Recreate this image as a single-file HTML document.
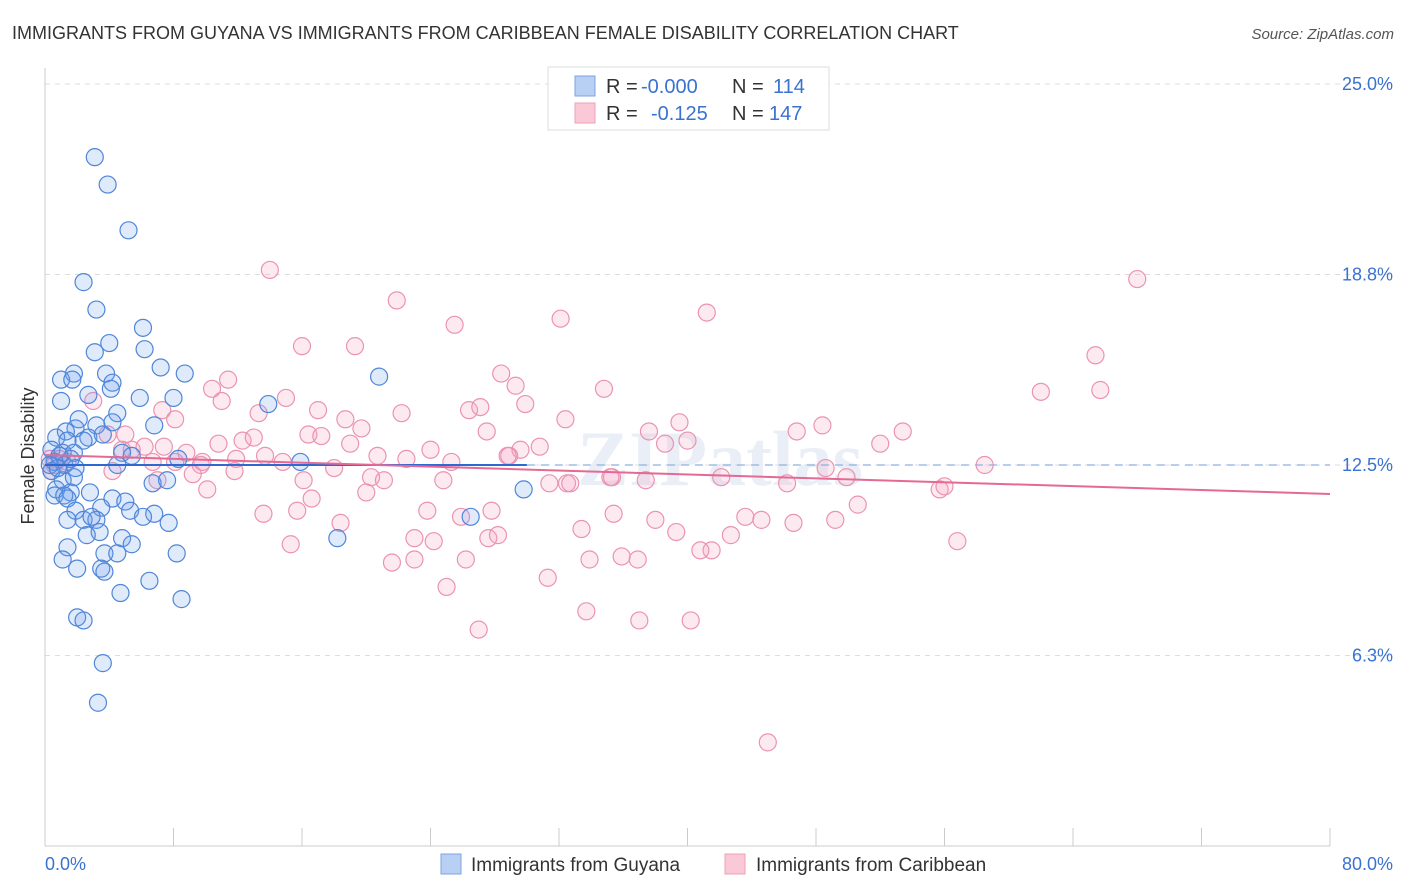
<!DOCTYPE html>
<html><head><meta charset="utf-8">
<style>
body{margin:0;background:#fff;font-family:"Liberation Sans",sans-serif;}
svg{display:block}
</style></head>
<body>
<svg id="chart" width="1406" height="892" viewBox="0 0 1406 892" xmlns="http://www.w3.org/2000/svg">
<text x="12" y="39" font-size="18" fill="#333">IMMIGRANTS FROM GUYANA VS IMMIGRANTS FROM CARIBBEAN FEMALE DISABILITY CORRELATION CHART</text>
<text x="1394" y="39" font-size="15" fill="#555" font-style="italic" text-anchor="end">Source: ZipAtlas.com</text>
<text x="720" y="485" font-size="78" fill="#dde6f2" text-anchor="middle" font-family="Liberation Serif" font-weight="bold" opacity="0.6">ZIPatlas</text>
<g id="grid"></g>
<g id="axes"></g>
<g id="marks"></g>
<text transform="translate(34,456) rotate(-90)" font-size="18" fill="#333" text-anchor="middle">Female Disability</text>
<g>
<rect x="548" y="67" width="281" height="63" fill="#fff" stroke="#ddd"/>
<rect x="575" y="76" width="20" height="20" fill="#b7d0f4" stroke="#7ea6e0"/>
<rect x="575" y="103" width="20" height="20" fill="#fbc8d8" stroke="#eea0b8"/>
<text x="606" y="93" font-size="20" fill="#333">R =</text><text x="641" y="93" font-size="20" fill="#3a72d0">-0.000</text>
<text x="732" y="93" font-size="20" fill="#333">N =</text><text x="773" y="93" font-size="20" fill="#3a72d0">114</text>
<text x="606" y="120" font-size="20" fill="#333">R =</text><text x="651" y="120" font-size="20" fill="#3a72d0">-0.125</text>
<text x="732" y="120" font-size="20" fill="#333">N =</text><text x="769" y="120" font-size="20" fill="#3a72d0">147</text>
</g>
<g>
<rect x="441" y="854" width="20" height="20" fill="#b7d0f4" stroke="#7ea6e0"/>
<text x="471" y="871" font-size="19" fill="#333">Immigrants from Guyana</text>
<rect x="725" y="854" width="20" height="20" fill="#fbc8d8" stroke="#eea0b8"/>
<text x="756" y="871" font-size="19" fill="#333">Immigrants from Caribbean</text>
</g>
</svg>
<script>
const yTicks=[25,18.75,12.5,6.25];
const yTickLabels=["25.0%","18.8%","12.5%","6.3%"];
const xTicks=[0,8,16,24,32,40,48,56,64,72,80];
const guyanaX=[3.1,3.9,5.2,2.4,3.2,6.1,4.0,6.2,3.1,7.2,8.7,13.9,20.8,1.8,1.0,1.7,3.8,4.2,4.1,2.7,5.9,8.0,1.0,4.5,2.1,6.8,4.2,3.2,1.9,1.3,0.7,1.4,2.7,3.6,2.4,0.4,1.1,1.8,4.8,5.4,8.3,15.9,4.5,0.6,1.2,1.9,0.4,1.1,1.8,0.7,1.6,2.8,6.7,7.6,29.8,0.6,1.2,1.4,4.2,5.0,3.5,1.9,5.3,6.8,6.1,26.5,1.4,2.4,3.2,2.9,7.7,3.4,2.6,4.8,18.2,1.4,5.4,3.7,4.5,8.2,1.1,2.0,3.5,3.7,6.5,4.7,8.5,2.0,2.4,3.6,3.3,1.6,0.9,0.3,0.8];
const guyanaY=[22.6,21.7,20.2,18.5,17.6,17.0,16.5,16.3,16.2,15.7,15.5,14.5,15.4,15.5,15.3,15.3,15.5,15.2,15.0,14.8,14.7,14.7,14.6,14.2,14.0,13.8,13.9,13.8,13.7,13.6,13.4,13.3,13.4,13.5,13.3,13.0,12.9,12.9,12.9,12.8,12.7,12.6,12.5,12.6,12.5,12.4,12.3,12.0,12.1,11.7,11.6,11.6,11.9,12.0,11.7,11.5,11.5,11.4,11.4,11.3,11.1,11.0,11.0,10.9,10.8,10.8,10.7,10.7,10.7,10.8,10.6,10.3,10.2,10.1,10.1,9.8,9.9,9.6,9.6,9.6,9.4,9.1,9.1,9.0,8.7,8.3,8.1,7.5,7.4,6.0,4.7,12.7,12.8,12.5,12.4];
const caribX=[14.0,68.0,21.9,32.1,41.2,25.5,16.0,19.3,65.4,28.4,11.4,29.3,10.4,34.8,62.0,65.7,15.0,11.0,3.0,29.9,22.2,26.4,27.1,17.0,7.3,8.1,18.7,13.3,32.4,19.7,27.5,39.5,37.6,48.4,53.4,3.9,5.0,10.8,12.3,13.0,16.4,17.2,19.0,24.0,30.8,29.6,28.9,38.6,40.0,46.8,52.0,6.2,7.4,5.4,8.8,9.8,11.9,13.7,14.8,20.7,22.5,25.3,6.7,8.1,9.7,4.2,4.8,18.0,20.3,21.1,24.8,28.8,32.5,35.3,37.4,42.1,46.2,48.6,49.9,58.5,7.0,9.2,11.8,10.1,16.1,16.6,20.0,31.4,32.7,35.2,55.7,56.0,13.6,15.7,18.4,23.8,25.9,27.8,35.4,38.0,39.3,43.6,44.6,46.6,49.2,50.6,33.4,15.3,23.0,24.2,27.6,28.2,42.7,41.5,40.8,56.8,21.6,23.0,26.2,33.9,35.9,36.9,31.3,25.0,33.7,37.0,40.2,27.0,45.0,0.3,0.6,0.9,1.4,0.4];
const caribY=[18.9,18.6,17.9,17.3,17.5,17.1,16.4,16.4,16.1,15.5,15.3,15.1,15.0,15.0,14.9,14.96,14.7,14.6,14.6,14.5,14.2,14.3,14.4,14.3,14.3,14.0,14.0,14.2,14.0,13.7,13.6,13.9,13.6,13.8,13.6,13.5,13.5,13.2,13.3,13.4,13.5,13.45,13.2,13.0,13.1,13.0,12.8,13.2,13.3,13.6,13.2,13.1,13.1,13.0,12.9,12.6,12.7,12.8,12.6,12.8,12.7,12.6,12.6,12.6,12.5,12.3,13.0,12.4,12.1,12.0,12.0,12.8,11.9,12.1,12.0,12.1,11.9,12.4,12.1,12.5,12.0,12.2,12.3,11.7,12.0,11.4,11.6,11.9,11.9,12.1,11.7,11.8,10.9,11.0,10.6,11.0,10.8,11.0,10.9,10.7,10.3,10.8,10.7,10.6,10.7,11.2,10.4,9.9,10.1,10.0,10.1,10.2,10.2,9.7,9.7,10.0,9.3,9.4,9.4,9.4,9.5,9.4,8.8,8.5,7.7,7.4,7.4,7.1,3.4,12.7,12.5,12.7,12.6,12.3];
const guyanaTrend=[[0,12.5],[30,12.5]];
const caribTrend=[[0,12.83],[80,11.55]];

const NS="http://www.w3.org/2000/svg";
const X0=45,X1=1330,Y0=846,Y25=84;
function sx(v){return X0+(v/80)*(X1-X0);}
function sy(v){return Y0-(v/25)*(Y0-Y25);}
function mk(tag,attrs,parent){const e=document.createElementNS(NS,tag);for(const k in attrs)e.setAttribute(k,attrs[k]);parent.appendChild(e);return e;}
const grid=document.getElementById('grid'),axes=document.getElementById('axes'),marks=document.getElementById('marks');
yTicks.forEach((t,i)=>{
  const l=mk('line',{x1:X0,x2:1390,y1:sy(t),y2:sy(t),stroke:'#ddd','stroke-dasharray':'5,5'},grid);
  
  
  const tx=mk('text',{x:1393,y:sy(t)+6,'font-size':18,fill:'#3a72d0','text-anchor':'end'},axes);
  tx.textContent=yTickLabels[i];
  
  
});
const ax=mk('line',{x1:X0,x2:X0,y1:68,y2:Y0,stroke:'#ccc'},axes);


const bx=mk('line',{x1:X0,x2:X1,y1:Y0,y2:Y0,stroke:'#ccc'},axes);


xTicks.forEach(t=>{
  const l=mk('line',{x1:sx(t),x2:sx(t),y1:Y0-18,y2:Y0,stroke:'#ccc'},axes);
  
  
});
const xl0=mk('text',{x:45,y:870,'font-size':18,fill:'#3a72d0'},axes);xl0.textContent='0.0%';


const xl1=mk('text',{x:1393,y:870,'font-size':18,fill:'#3a72d0','text-anchor':'end'},axes);xl1.textContent='80.0%';



caribX.forEach((v,i)=>{
  const c=mk('circle',{cx:sx(v),cy:sy(caribY[i]),r:8.5,fill:'rgba(245,160,190,0.22)',stroke:'#eb93b1','stroke-width':1.2},marks);
  
  
});
guyanaX.forEach((v,i)=>{
  const c=mk('circle',{cx:sx(v),cy:sy(guyanaY[i]),r:8.5,fill:'rgba(110,160,235,0.22)',stroke:'#4f86d9','stroke-width':1.2},marks);
  
  
});
const gd=mk('line',{x1:sx(guyanaTrend[1][0]),y1:sy(guyanaTrend[1][1]),x2:sx(80),y2:sy(guyanaTrend[1][1]),stroke:'#8fb0e0','stroke-width':1.3,'stroke-dasharray':'8,6'},marks);


const gt=mk('line',{x1:sx(guyanaTrend[0][0]),y1:sy(guyanaTrend[0][1]),x2:sx(guyanaTrend[1][0]),y2:sy(guyanaTrend[1][1]),stroke:'#2f68d0','stroke-width':2},marks);


const ct=mk('line',{x1:sx(caribTrend[0][0]),y1:sy(caribTrend[0][1]),x2:sx(caribTrend[1][0]),y2:sy(caribTrend[1][1]),stroke:'#e46a95','stroke-width':2},marks);


</script>
</body></html>
